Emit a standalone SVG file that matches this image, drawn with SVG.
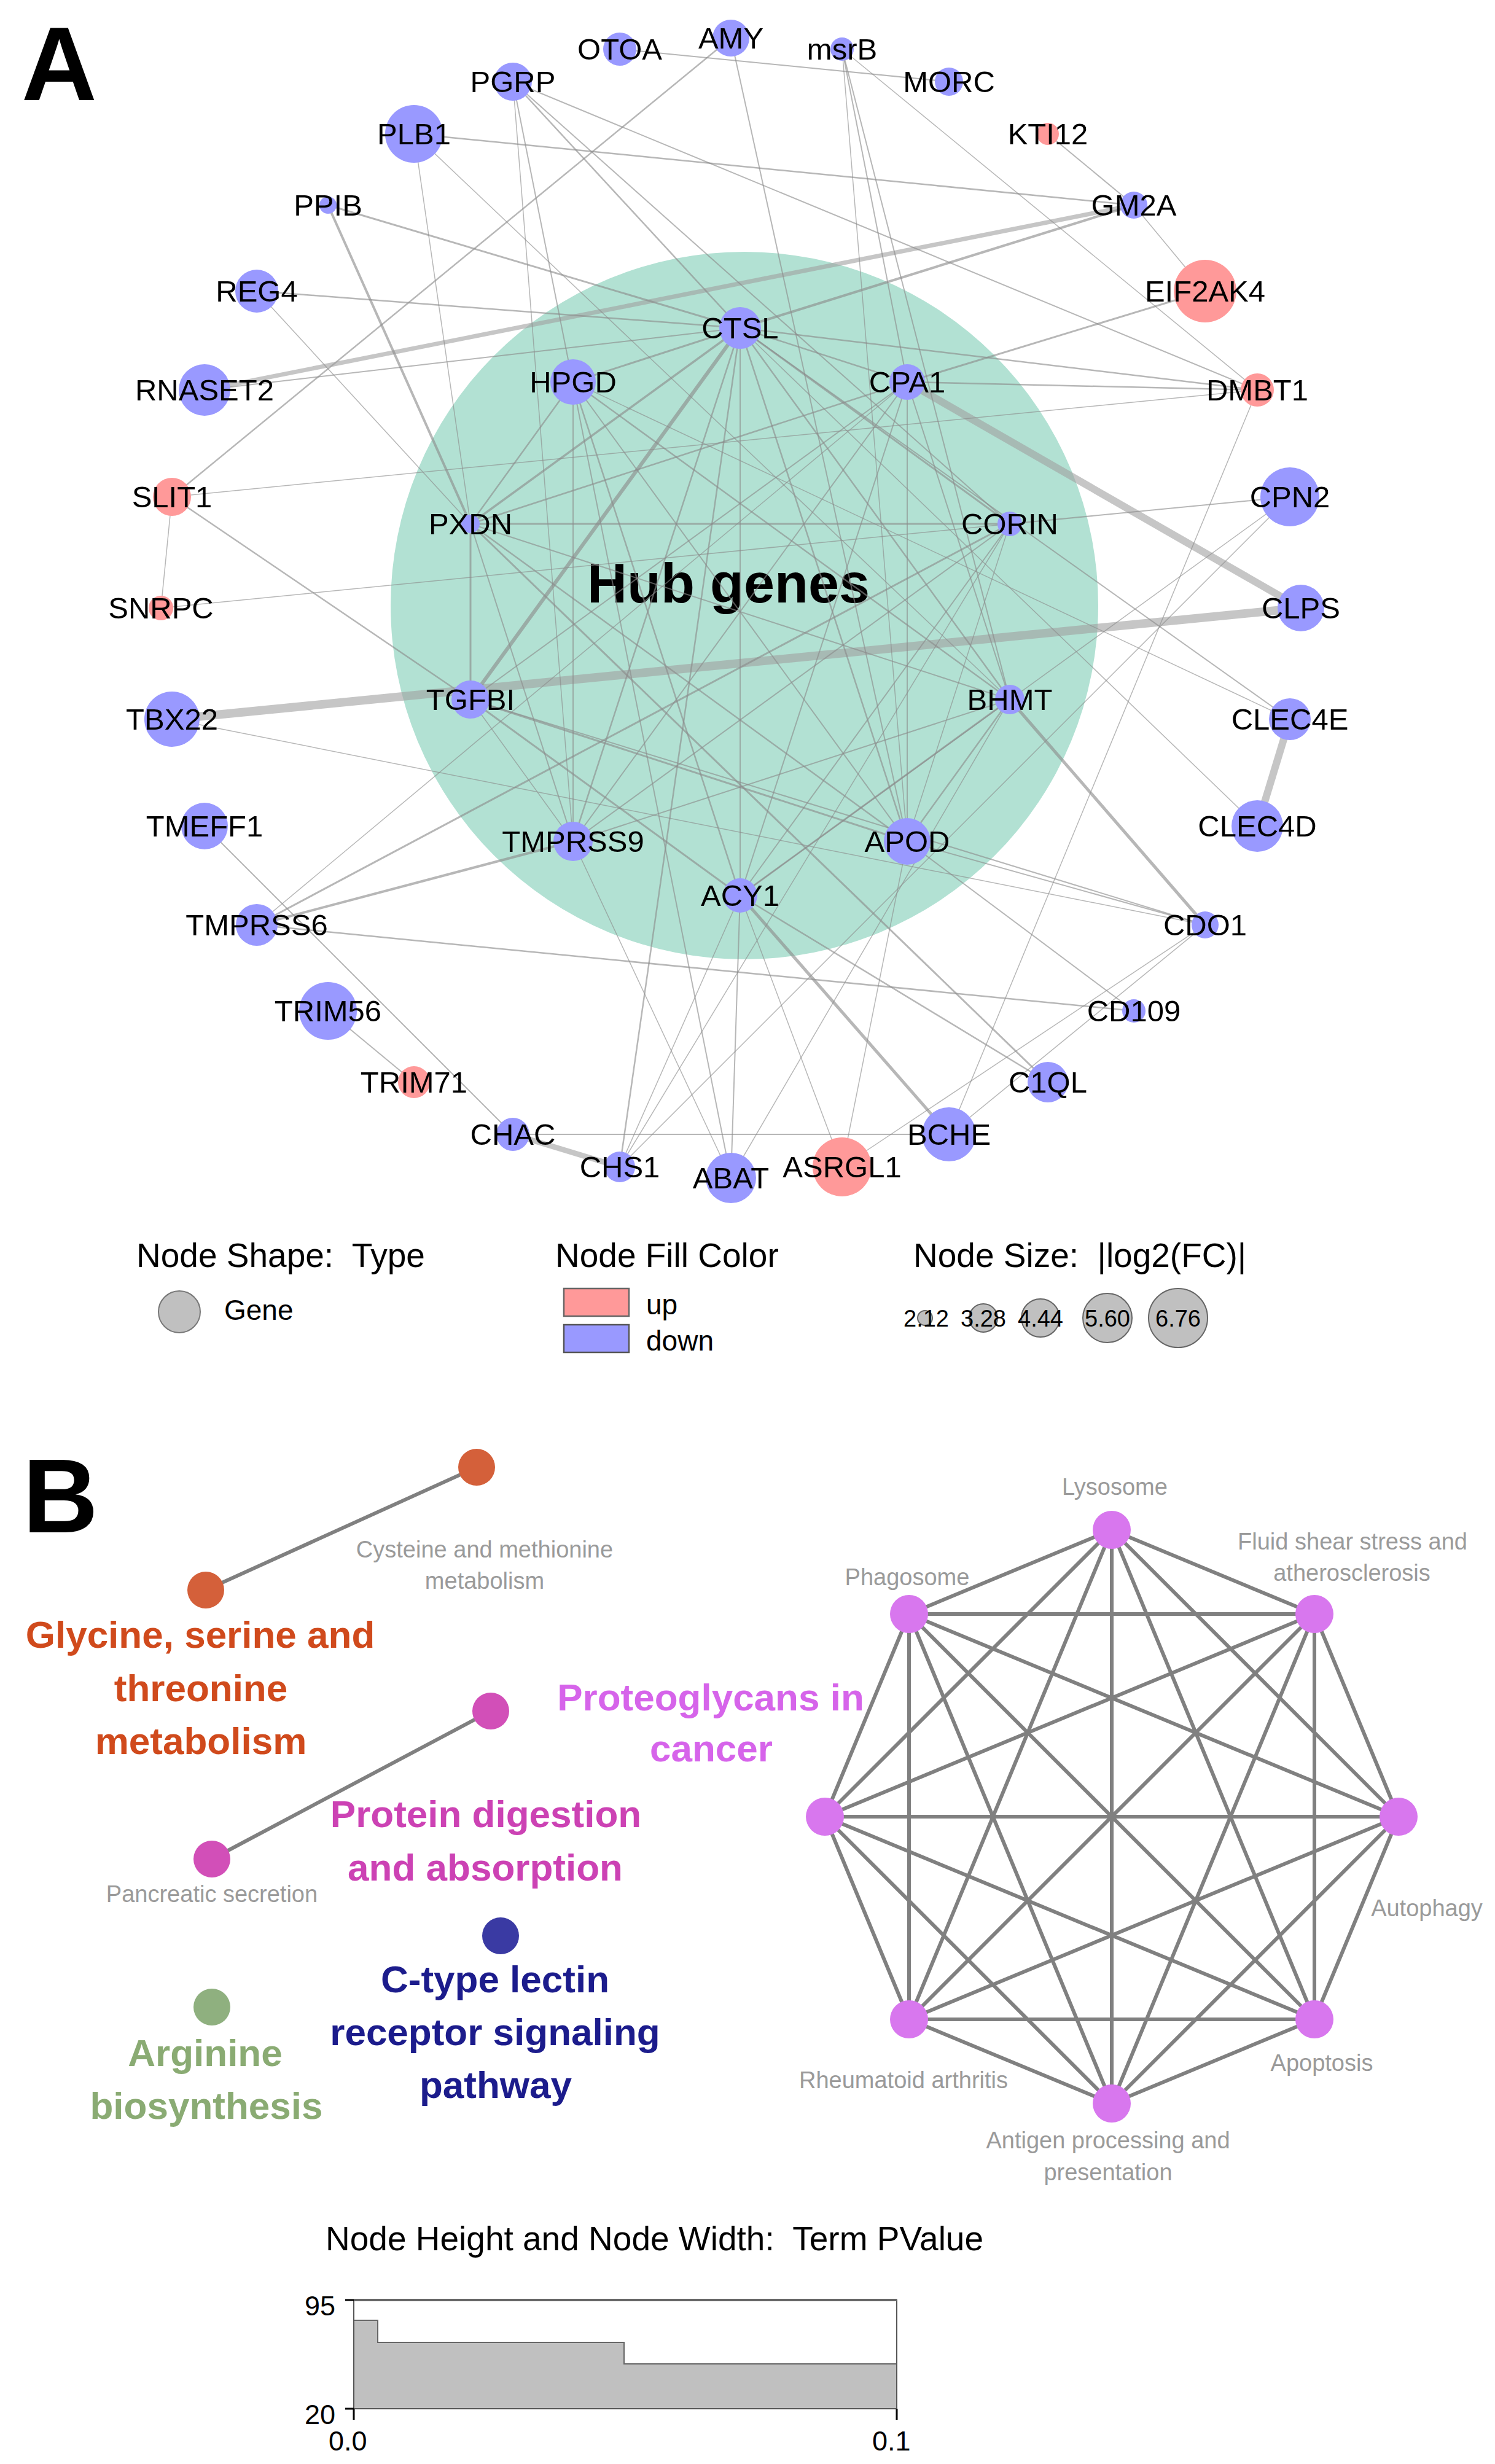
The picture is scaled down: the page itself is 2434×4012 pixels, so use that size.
<svg xmlns="http://www.w3.org/2000/svg" width="2434" height="4012" viewBox="0 0 2434 4012">
<style>
.dn{fill:#9999ff}
.up{fill:#ff9999}
.lbl{font-family:'Liberation Sans',Arial,sans-serif;font-size:49px;text-anchor:middle;fill:#000}
.e line{stroke:#8a8a8a;stroke-opacity:.62;stroke-linecap:round}
.pan{font-family:'Liberation Sans',Arial,sans-serif;font-size:170px;font-weight:bold;fill:#000}
.leg{font-family:'Liberation Sans',Arial,sans-serif;font-size:55px;fill:#000}
.leg2{font-family:'Liberation Sans',Arial,sans-serif;font-size:46px;fill:#000}
.szc{fill:#c0c0c0;stroke:#666;stroke-width:2}
.szt{font-family:'Liberation Sans',Arial,sans-serif;font-size:38px;text-anchor:middle;fill:#000}
.gt{font-family:'Liberation Sans',Arial,sans-serif;font-size:38px;text-anchor:middle;fill:#9a9a9a}
.bt{font-family:'Liberation Sans',Arial,sans-serif;font-size:62px;font-weight:bold;text-anchor:middle}
.be line{stroke:#808080;stroke-width:6;stroke-linecap:round}
.oct{fill:#d877ee}
.ax{font-family:'Liberation Sans',Arial,sans-serif;font-size:45px;fill:#000}
</style>
<rect width="2434" height="4012" fill="#fff"/>
<text class="pan" x="35" y="163">A</text>
<circle id="hub-area" cx="1212" cy="986" r="576" fill="#b2e1d3"/>
<text x="1186" y="981" font-family="'Liberation Sans',Arial,sans-serif" font-size="90" font-weight="bold" text-anchor="middle">Hub genes</text>
<g id="connectors-A" class="e">
<line x1="1009" y1="80" x2="1545" y2="133" stroke-width="2"/>
<line x1="1190" y1="62" x2="280" y2="809" stroke-width="2.5"/>
<line x1="280" y1="809" x2="262" y2="990" stroke-width="1.5"/>
<line x1="280" y1="809" x2="766" y2="1139" stroke-width="2.5"/>
<line x1="280" y1="1171" x2="2118" y2="990" stroke-width="14" style="stroke:#a0a0a0;stroke-opacity:.6"/>
<line x1="1477" y1="622" x2="2118" y2="990" stroke-width="12" style="stroke:#a0a0a0;stroke-opacity:.6"/>
<line x1="2100" y1="1171" x2="2047" y2="1345" stroke-width="12" style="stroke:#a0a0a0;stroke-opacity:.6"/>
<line x1="333" y1="635" x2="1846" y2="334" stroke-width="7" style="stroke:#a0a0a0;stroke-opacity:.6"/>
<line x1="835" y1="1847" x2="1009" y2="1900" stroke-width="9" style="stroke:#a0a0a0;stroke-opacity:.6"/>
<line x1="1205" y1="534" x2="766" y2="1139" stroke-width="6"/>
<line x1="1644" y1="1139" x2="1962" y2="1506" stroke-width="5"/>
<line x1="1205" y1="1458" x2="1545" y2="1847" stroke-width="5"/>
<line x1="835" y1="133" x2="2047" y2="635" stroke-width="2"/>
<line x1="674" y1="218" x2="1846" y2="334" stroke-width="2.5"/>
<line x1="1371" y1="80" x2="2047" y2="635" stroke-width="1.5"/>
<line x1="1706" y1="218" x2="1846" y2="334" stroke-width="2"/>
<line x1="1846" y1="334" x2="1962" y2="474" stroke-width="1.5"/>
<line x1="1205" y1="534" x2="1846" y2="334" stroke-width="4"/>
<line x1="1477" y1="622" x2="1962" y2="474" stroke-width="3"/>
<line x1="1477" y1="622" x2="2047" y2="635" stroke-width="2.5"/>
<line x1="1205" y1="534" x2="2047" y2="635" stroke-width="2.5"/>
<line x1="280" y1="809" x2="2047" y2="635" stroke-width="1.5"/>
<line x1="1644" y1="853" x2="2100" y2="809" stroke-width="2"/>
<line x1="2100" y1="809" x2="1205" y2="1458" stroke-width="1.5"/>
<line x1="2100" y1="809" x2="1009" y2="1900" stroke-width="1.5"/>
<line x1="333" y1="635" x2="1205" y2="534" stroke-width="2"/>
<line x1="418" y1="474" x2="1205" y2="534" stroke-width="2.5"/>
<line x1="418" y1="474" x2="766" y2="853" stroke-width="1.5"/>
<line x1="534" y1="334" x2="1205" y2="534" stroke-width="3"/>
<line x1="534" y1="334" x2="766" y2="853" stroke-width="4"/>
<line x1="674" y1="218" x2="766" y2="853" stroke-width="1.5"/>
<line x1="674" y1="218" x2="1644" y2="1139" stroke-width="1.5"/>
<line x1="835" y1="133" x2="933" y2="1370" stroke-width="1.5"/>
<line x1="835" y1="133" x2="1205" y2="534" stroke-width="2.5"/>
<line x1="835" y1="133" x2="1644" y2="853" stroke-width="2"/>
<line x1="835" y1="133" x2="1190" y2="1918" stroke-width="2"/>
<line x1="1190" y1="62" x2="1477" y2="1370" stroke-width="2"/>
<line x1="1371" y1="80" x2="1477" y2="622" stroke-width="2"/>
<line x1="1371" y1="80" x2="1644" y2="1139" stroke-width="2"/>
<line x1="1371" y1="80" x2="1477" y2="1370" stroke-width="1.5"/>
<line x1="2047" y1="635" x2="1545" y2="1847" stroke-width="1.5"/>
<line x1="1205" y1="534" x2="2100" y2="1171" stroke-width="2"/>
<line x1="1205" y1="534" x2="2047" y2="1345" stroke-width="1.5"/>
<line x1="933" y1="622" x2="2100" y2="1171" stroke-width="1.5"/>
<line x1="1477" y1="1370" x2="1962" y2="1506" stroke-width="2"/>
<line x1="766" y1="1139" x2="1962" y2="1506" stroke-width="2"/>
<line x1="1962" y1="1506" x2="1545" y2="1847" stroke-width="1.5"/>
<line x1="418" y1="1506" x2="1846" y2="1646" stroke-width="2.5"/>
<line x1="1477" y1="1370" x2="1846" y2="1646" stroke-width="2"/>
<line x1="766" y1="853" x2="1706" y2="1762" stroke-width="3"/>
<line x1="1205" y1="1458" x2="1706" y2="1762" stroke-width="2.5"/>
<line x1="1371" y1="1900" x2="1205" y2="1458" stroke-width="1.5"/>
<line x1="1371" y1="1900" x2="1477" y2="1370" stroke-width="1.5"/>
<line x1="1371" y1="1900" x2="1962" y2="1506" stroke-width="1.5"/>
<line x1="835" y1="1847" x2="1545" y2="1847" stroke-width="2"/>
<line x1="1190" y1="1918" x2="1205" y2="1458" stroke-width="2"/>
<line x1="933" y1="1370" x2="1190" y2="1918" stroke-width="1.5"/>
<line x1="1009" y1="1900" x2="1205" y2="534" stroke-width="2.5"/>
<line x1="1009" y1="1900" x2="1644" y2="853" stroke-width="1.5"/>
<line x1="1190" y1="1918" x2="1644" y2="1139" stroke-width="1.5"/>
<line x1="534" y1="1646" x2="674" y2="1762" stroke-width="2"/>
<line x1="333" y1="1345" x2="835" y2="1847" stroke-width="2"/>
<line x1="418" y1="1506" x2="933" y2="1370" stroke-width="4"/>
<line x1="418" y1="1506" x2="1477" y2="622" stroke-width="1.5"/>
<line x1="418" y1="1506" x2="1644" y2="853" stroke-width="3"/>
<line x1="280" y1="1171" x2="1962" y2="1506" stroke-width="1.5"/>
<line x1="262" y1="990" x2="1644" y2="853" stroke-width="1.5"/>
<line x1="1205" y1="1458" x2="1009" y2="1900" stroke-width="1.5"/>
<line x1="1205" y1="534" x2="933" y2="622" stroke-width="3"/>
<line x1="1205" y1="534" x2="766" y2="853" stroke-width="3.5"/>
<line x1="1205" y1="534" x2="1477" y2="622" stroke-width="2.5"/>
<line x1="1205" y1="534" x2="1644" y2="853" stroke-width="3"/>
<line x1="1205" y1="534" x2="1644" y2="1139" stroke-width="2.5"/>
<line x1="1205" y1="534" x2="1477" y2="1370" stroke-width="2.5"/>
<line x1="1205" y1="534" x2="933" y2="1370" stroke-width="2.5"/>
<line x1="1205" y1="534" x2="1205" y2="1458" stroke-width="2"/>
<line x1="933" y1="622" x2="766" y2="853" stroke-width="2.5"/>
<line x1="933" y1="622" x2="1205" y2="1458" stroke-width="2.5"/>
<line x1="933" y1="622" x2="1477" y2="1370" stroke-width="2"/>
<line x1="933" y1="622" x2="1644" y2="1139" stroke-width="2.5"/>
<line x1="933" y1="622" x2="933" y2="1370" stroke-width="2"/>
<line x1="766" y1="853" x2="1644" y2="853" stroke-width="3"/>
<line x1="766" y1="853" x2="1477" y2="622" stroke-width="2.5"/>
<line x1="766" y1="853" x2="766" y2="1139" stroke-width="3"/>
<line x1="766" y1="853" x2="933" y2="1370" stroke-width="2"/>
<line x1="766" y1="853" x2="1477" y2="1370" stroke-width="2.5"/>
<line x1="766" y1="853" x2="1644" y2="1139" stroke-width="2"/>
<line x1="1477" y1="622" x2="933" y2="1370" stroke-width="2"/>
<line x1="1477" y1="622" x2="1205" y2="1458" stroke-width="2"/>
<line x1="1477" y1="622" x2="1477" y2="1370" stroke-width="2"/>
<line x1="1477" y1="622" x2="1644" y2="1139" stroke-width="2"/>
<line x1="1477" y1="622" x2="766" y2="1139" stroke-width="2"/>
<line x1="1644" y1="853" x2="1205" y2="1458" stroke-width="2"/>
<line x1="1644" y1="853" x2="933" y2="1370" stroke-width="2"/>
<line x1="1644" y1="853" x2="1477" y2="1370" stroke-width="1.5"/>
<line x1="1644" y1="1139" x2="1205" y2="1458" stroke-width="3"/>
<line x1="1644" y1="1139" x2="1477" y2="1370" stroke-width="2.5"/>
<line x1="1644" y1="1139" x2="933" y2="1370" stroke-width="2"/>
<line x1="766" y1="1139" x2="1477" y2="1370" stroke-width="3"/>
<line x1="766" y1="1139" x2="1205" y2="1458" stroke-width="3"/>
<line x1="766" y1="1139" x2="933" y2="1370" stroke-width="1.5"/>
</g>
<g id="nodes-A">
<g id="node-AMY"><circle class="dn" cx="1190" cy="62" r="30"/><text class="lbl" x="1190" y="79">AMY</text></g>
<g id="node-OTOA"><circle class="dn" cx="1009" cy="80" r="27"/><text class="lbl" x="1009" y="97">OTOA</text></g>
<g id="node-msrB"><circle class="dn" cx="1371" cy="80" r="19"/><text class="lbl" x="1371" y="97">msrB</text></g>
<g id="node-PGRP"><circle class="dn" cx="835" cy="133" r="31"/><text class="lbl" x="835" y="150">PGRP</text></g>
<g id="node-MORC"><circle class="dn" cx="1545" cy="133" r="23"/><text class="lbl" x="1545" y="150">MORC</text></g>
<g id="node-PLB1"><circle class="dn" cx="674" cy="218" r="47"/><text class="lbl" x="674" y="235">PLB1</text></g>
<g id="node-KTI12"><circle class="up" cx="1706" cy="218" r="18"/><text class="lbl" x="1706" y="235">KTI12</text></g>
<g id="node-PPIB"><circle class="dn" cx="534" cy="334" r="14"/><text class="lbl" x="534" y="351">PPIB</text></g>
<g id="node-GM2A"><circle class="dn" cx="1846" cy="334" r="22"/><text class="lbl" x="1846" y="351">GM2A</text></g>
<g id="node-REG4"><circle class="dn" cx="418" cy="474" r="35"/><text class="lbl" x="418" y="491">REG4</text></g>
<g id="node-EIF2AK4"><circle class="up" cx="1962" cy="474" r="51"/><text class="lbl" x="1962" y="491">EIF2AK4</text></g>
<g id="node-RNASET2"><circle class="dn" cx="333" cy="635" r="42"/><text class="lbl" x="333" y="652">RNASET2</text></g>
<g id="node-DMBT1"><circle class="up" cx="2047" cy="635" r="27"/><text class="lbl" x="2047" y="652">DMBT1</text></g>
<g id="node-SLIT1"><circle class="up" cx="280" cy="809" r="31"/><text class="lbl" x="280" y="826">SLIT1</text></g>
<g id="node-CPN2"><circle class="dn" cx="2100" cy="809" r="48"/><text class="lbl" x="2100" y="826">CPN2</text></g>
<g id="node-SNRPC"><circle class="up" cx="262" cy="990" r="20"/><text class="lbl" x="262" y="1007">SNRPC</text></g>
<g id="node-CLPS"><circle class="dn" cx="2118" cy="990" r="38"/><text class="lbl" x="2118" y="1007">CLPS</text></g>
<g id="node-TBX22"><circle class="dn" cx="280" cy="1171" r="45"/><text class="lbl" x="280" y="1188">TBX22</text></g>
<g id="node-CLEC4E"><circle class="dn" cx="2100" cy="1171" r="34"/><text class="lbl" x="2100" y="1188">CLEC4E</text></g>
<g id="node-TMEFF1"><circle class="dn" cx="333" cy="1345" r="38"/><text class="lbl" x="333" y="1362">TMEFF1</text></g>
<g id="node-CLEC4D"><circle class="dn" cx="2047" cy="1345" r="42"/><text class="lbl" x="2047" y="1362">CLEC4D</text></g>
<g id="node-TMPRSS6"><circle class="dn" cx="418" cy="1506" r="34"/><text class="lbl" x="418" y="1523">TMPRSS6</text></g>
<g id="node-CDO1"><circle class="dn" cx="1962" cy="1506" r="22"/><text class="lbl" x="1962" y="1523">CDO1</text></g>
<g id="node-TRIM56"><circle class="dn" cx="534" cy="1646" r="47"/><text class="lbl" x="534" y="1663">TRIM56</text></g>
<g id="node-CD109"><circle class="dn" cx="1846" cy="1646" r="19"/><text class="lbl" x="1846" y="1663">CD109</text></g>
<g id="node-TRIM71"><circle class="up" cx="674" cy="1762" r="26"/><text class="lbl" x="674" y="1779">TRIM71</text></g>
<g id="node-C1QL"><circle class="dn" cx="1706" cy="1762" r="33"/><text class="lbl" x="1706" y="1779">C1QL</text></g>
<g id="node-CHAC"><circle class="dn" cx="835" cy="1847" r="27"/><text class="lbl" x="835" y="1864">CHAC</text></g>
<g id="node-BCHE"><circle class="dn" cx="1545" cy="1847" r="44"/><text class="lbl" x="1545" y="1864">BCHE</text></g>
<g id="node-CHS1"><circle class="dn" cx="1009" cy="1900" r="25"/><text class="lbl" x="1009" y="1917">CHS1</text></g>
<g id="node-ASRGL1"><circle class="up" cx="1371" cy="1900" r="48"/><text class="lbl" x="1371" y="1917">ASRGL1</text></g>
<g id="node-ABAT"><circle class="dn" cx="1190" cy="1918" r="41"/><text class="lbl" x="1190" y="1935">ABAT</text></g>
<g id="node-CTSL"><circle class="dn" cx="1205" cy="534" r="34"/><text class="lbl" x="1205" y="551">CTSL</text></g>
<g id="node-CPA1"><circle class="dn" cx="1477" cy="622" r="29"/><text class="lbl" x="1477" y="639">CPA1</text></g>
<g id="node-CORIN"><circle class="dn" cx="1644" cy="853" r="20"/><text class="lbl" x="1644" y="870">CORIN</text></g>
<g id="node-BHMT"><circle class="dn" cx="1644" cy="1139" r="24"/><text class="lbl" x="1644" y="1156">BHMT</text></g>
<g id="node-APOD"><circle class="dn" cx="1477" cy="1370" r="38"/><text class="lbl" x="1477" y="1387">APOD</text></g>
<g id="node-ACY1"><circle class="dn" cx="1205" cy="1458" r="28"/><text class="lbl" x="1205" y="1475">ACY1</text></g>
<g id="node-TMPRSS9"><circle class="dn" cx="933" cy="1370" r="32"/><text class="lbl" x="933" y="1387">TMPRSS9</text></g>
<g id="node-TGFBI"><circle class="dn" cx="766" cy="1139" r="31"/><text class="lbl" x="766" y="1156">TGFBI</text></g>
<g id="node-PXDN"><circle class="dn" cx="766" cy="853" r="15"/><text class="lbl" x="766" y="870">PXDN</text></g>
<g id="node-HPGD"><circle class="dn" cx="933" cy="622" r="37"/><text class="lbl" x="933" y="639">HPGD</text></g>
</g>
<g id="legend-A">
<text class="leg" x="222" y="2063">Node Shape:&#160; Type</text>
<circle cx="292" cy="2136" r="34" fill="#c0c0c0" stroke="#777" stroke-width="2"/>
<text class="leg2" x="365" y="2149">Gene</text>
<text class="leg" x="904" y="2063">Node Fill Color</text>
<rect x="918" y="2098" width="106" height="45" fill="#ff9999" stroke="#666" stroke-width="2.5"/>
<rect x="918" y="2157" width="106" height="45" fill="#9999ff" stroke="#555" stroke-width="2.5"/>
<text class="leg2" x="1052" y="2140">up</text>
<text class="leg2" x="1052" y="2199">down</text>
<text class="leg" x="1487" y="2063">Node Size:&#160; |log2(FC)|</text>
<circle class="szc" cx="1506" cy="2146" r="12"/>
<circle class="szc" cx="1601" cy="2146" r="23"/>
<circle class="szc" cx="1694" cy="2146" r="31"/>
<circle class="szc" cx="1803" cy="2146" r="40"/>
<circle class="szc" cx="1918" cy="2146" r="48"/>
<text class="szt" x="1508" y="2160">2.12</text>
<text class="szt" x="1601" y="2160">3.28</text>
<text class="szt" x="1694" y="2160">4.44</text>
<text class="szt" x="1803" y="2160">5.60</text>
<text class="szt" x="1918" y="2160">6.76</text>
</g>
<text class="pan" x="37" y="2495">B</text>
<g id="connectors-B" class="be">
<line x1="335" y1="2589" x2="776" y2="2389"/>
<line x1="345" y1="3027" x2="799" y2="2786"/>
<line x1="1810" y1="2491" x2="2140" y2="2628"/>
<line x1="1810" y1="2491" x2="2277" y2="2958"/>
<line x1="1810" y1="2491" x2="2140" y2="3288"/>
<line x1="1810" y1="2491" x2="1810" y2="3425"/>
<line x1="1810" y1="2491" x2="1480" y2="3288"/>
<line x1="1810" y1="2491" x2="1343" y2="2958"/>
<line x1="1810" y1="2491" x2="1480" y2="2628"/>
<line x1="2140" y1="2628" x2="2277" y2="2958"/>
<line x1="2140" y1="2628" x2="2140" y2="3288"/>
<line x1="2140" y1="2628" x2="1810" y2="3425"/>
<line x1="2140" y1="2628" x2="1480" y2="3288"/>
<line x1="2140" y1="2628" x2="1343" y2="2958"/>
<line x1="2140" y1="2628" x2="1480" y2="2628"/>
<line x1="2277" y1="2958" x2="2140" y2="3288"/>
<line x1="2277" y1="2958" x2="1810" y2="3425"/>
<line x1="2277" y1="2958" x2="1480" y2="3288"/>
<line x1="2277" y1="2958" x2="1343" y2="2958"/>
<line x1="2277" y1="2958" x2="1480" y2="2628"/>
<line x1="2140" y1="3288" x2="1810" y2="3425"/>
<line x1="2140" y1="3288" x2="1480" y2="3288"/>
<line x1="2140" y1="3288" x2="1343" y2="2958"/>
<line x1="2140" y1="3288" x2="1480" y2="2628"/>
<line x1="1810" y1="3425" x2="1480" y2="3288"/>
<line x1="1810" y1="3425" x2="1343" y2="2958"/>
<line x1="1810" y1="3425" x2="1480" y2="2628"/>
<line x1="1480" y1="3288" x2="1343" y2="2958"/>
<line x1="1480" y1="3288" x2="1480" y2="2628"/>
<line x1="1343" y1="2958" x2="1480" y2="2628"/>
</g>
<g id="nodes-B">
<g id="term-cysteine"><circle cx="776" cy="2389" r="30" fill="#d4603a"/><text class="gt" x="789" y="2536">Cysteine and methionine</text><text class="gt" x="789" y="2587">metabolism</text></g>
<g id="term-glycine"><circle cx="335" cy="2589" r="30" fill="#d4603a"/><text class="bt" fill="#d04a1c" x="326" y="2683">Glycine, serine and</text><text class="bt" fill="#d04a1c" x="327" y="2770">threonine</text><text class="bt" fill="#d04a1c" x="327" y="2856">metabolism</text></g>
<g id="term-protein"><circle cx="799" cy="2786" r="30" fill="#d24fb8"/><text class="bt" fill="#cc42b4" x="791" y="2975">Protein digestion</text><text class="bt" fill="#cc42b4" x="790" y="3062">and absorption</text></g>
<g id="term-pancreatic"><circle cx="345" cy="3027" r="30" fill="#d24fb8"/><text class="gt" x="345" y="3097">Pancreatic secretion</text></g>
<g id="term-ctype"><circle cx="815" cy="3152" r="30" fill="#3a3aa3"/><text class="bt" fill="#1c1c8c" x="806" y="3244">C-type lectin</text><text class="bt" fill="#1c1c8c" x="806" y="3330">receptor signaling</text><text class="bt" fill="#1c1c8c" x="807" y="3416">pathway</text></g>
<g id="term-arginine"><circle cx="345" cy="3268" r="30" fill="#8fb07f"/><text class="bt" fill="#8aab73" x="334" y="3364">Arginine</text><text class="bt" fill="#8aab73" x="336" y="3450">biosynthesis</text></g>
<g id="term-lysosome"><circle class="oct" cx="1810" cy="2491" r="31"/><text class="gt" x="1815" y="2434">Lysosome</text></g>
<g id="term-fluid"><circle class="oct" cx="2140" cy="2628" r="31"/><text class="gt" x="2202" y="2523">Fluid shear stress and</text><text class="gt" x="2201" y="2574">atherosclerosis</text></g>
<g id="term-autophagy"><circle class="oct" cx="2277" cy="2958" r="31"/><text class="gt" x="2323" y="3120">Autophagy</text></g>
<g id="term-apoptosis"><circle class="oct" cx="2140" cy="3288" r="31"/><text class="gt" x="2152" y="3372">Apoptosis</text></g>
<g id="term-antigen"><circle class="oct" cx="1810" cy="3425" r="31"/><text class="gt" x="1804" y="3498">Antigen processing and</text><text class="gt" x="1804" y="3550">presentation</text></g>
<g id="term-rheumatoid"><circle class="oct" cx="1480" cy="3288" r="31"/><text class="gt" x="1471" y="3400">Rheumatoid arthritis</text></g>
<g id="term-proteoglycans"><circle class="oct" cx="1343" cy="2958" r="31"/><text class="bt" fill="#d664ea" x="1157" y="2785">Proteoglycans in</text><text class="bt" fill="#d664ea" x="1158" y="2868">cancer</text></g>
<g id="term-phagosome"><circle class="oct" cx="1480" cy="2628" r="31"/><text class="gt" x="1477" y="2581">Phagosome</text></g>
</g>
<g id="legend-B">
<text class="leg" x="530" y="3664" font-size="56">Node Height and Node Width:&#160; Term PValue</text>
<path d="M576,3922 L576,3778 L615,3778 L615,3814 L1016,3814 L1016,3849 L1460,3849 L1460,3922 Z" fill="#c0c0c0" stroke="#666" stroke-width="2"/>
<rect x="576" y="3745" width="884" height="177" fill="none" stroke="#555" stroke-width="2"/>
<line x1="576" y1="3745" x2="1460" y2="3745" stroke="#666" stroke-width="4"/>
<line x1="562" y1="3745" x2="576" y2="3745" stroke="#000" stroke-width="3"/>
<line x1="562" y1="3922" x2="576" y2="3922" stroke="#000" stroke-width="3"/>
<line x1="576" y1="3922" x2="576" y2="3940" stroke="#000" stroke-width="3"/>
<line x1="1460" y1="3922" x2="1460" y2="3940" stroke="#000" stroke-width="3"/>
<text class="ax" x="496" y="3770">95</text>
<text class="ax" x="496" y="3947">20</text>
<text class="ax" x="535" y="3990">0.0</text>
<text class="ax" x="1420" y="3990">0.1</text>
</g>
</svg>
